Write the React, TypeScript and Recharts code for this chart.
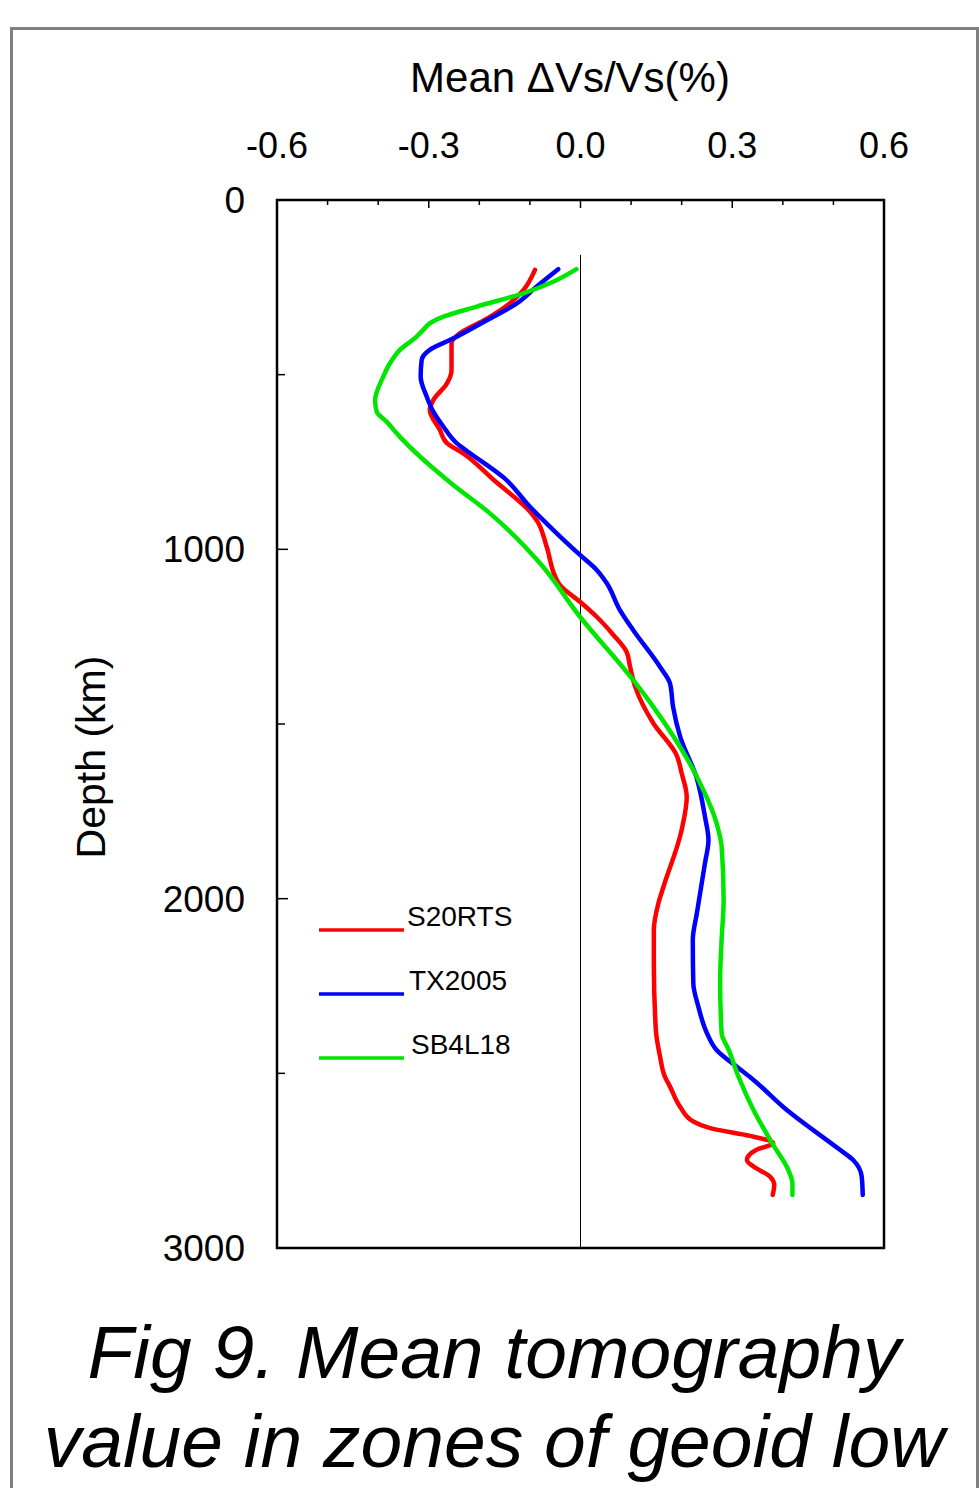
import { LineChart, Line, XAxis, YAxis, ReferenceArea, Legend } from "recharts";

const FONT = '"Liberation Sans", Arial, sans-serif';

// depth ticks (km) and dVs/Vs ticks (%)
const depthTicks = [0, 500, 1000, 1500, 2000, 2500, 3000];
const valueTicks = [-0.6, -0.5, -0.4, -0.3, -0.2, -0.1, 0, 0.1, 0.2, 0.3, 0.4, 0.5, 0.6];

// [dVs/Vs %, depth km]
const s20rts: [number, number][] = [
  [-0.09, 200], [-0.113, 258], [-0.139, 295], [-0.185, 340], [-0.238, 381],
  [-0.255, 410], [-0.255, 487], [-0.264, 525], [-0.291, 573], [-0.298, 601],
  [-0.278, 658], [-0.264, 696], [-0.232, 725], [-0.172, 801], [-0.1, 892],
  [-0.087, 916], [-0.067, 992], [-0.05, 1078], [-0.041, 1102], [-0.001, 1150],
  [0.032, 1193], [0.065, 1245], [0.091, 1293], [0.098, 1336], [0.108, 1393],
  [0.144, 1498], [0.19, 1589], [0.2, 1641], [0.21, 1708], [0.2, 1803],
  [0.164, 1966], [0.154, 2013], [0.145, 2090], [0.145, 2185], [0.149, 2376],
  [0.157, 2450], [0.167, 2510], [0.177, 2538], [0.197, 2596], [0.223, 2638],
  [0.256, 2657], [0.335, 2679], [0.381, 2700], [0.348, 2719], [0.329, 2748],
  [0.342, 2767], [0.375, 2796], [0.383, 2820], [0.38, 2848],
];

const tx2005: [number, number][] = [
  [-0.044, 198], [-0.087, 248], [-0.126, 296], [-0.185, 344], [-0.251, 396],
  [-0.298, 429], [-0.314, 458], [-0.316, 506], [-0.304, 563], [-0.291, 606],
  [-0.271, 649], [-0.245, 696], [-0.218, 725], [-0.15, 797], [-0.1, 878],
  [-0.047, 954], [-0.001, 1016], [0.032, 1059], [0.052, 1097], [0.078, 1174],
  [0.104, 1231], [0.157, 1336], [0.177, 1384], [0.183, 1451], [0.197, 1536],
  [0.23, 1656], [0.246, 1765], [0.253, 1832], [0.246, 1899], [0.23, 2042],
  [0.222, 2118], [0.223, 2242], [0.233, 2309], [0.25, 2385], [0.269, 2433],
  [0.309, 2481], [0.338, 2514], [0.408, 2605], [0.513, 2719], [0.539, 2748],
  [0.556, 2796], [0.558, 2848],
];

const sb4l18: [number, number][] = [
  [-0.008, 198], [-0.054, 234], [-0.113, 267], [-0.205, 305], [-0.271, 334],
  [-0.298, 353], [-0.311, 372], [-0.324, 391], [-0.357, 429], [-0.377, 468],
  [-0.39, 506], [-0.406, 573], [-0.403, 606], [-0.383, 635], [-0.357, 678],
  [-0.317, 735], [-0.291, 768], [-0.254, 813], [-0.179, 897], [-0.08, 1040],
  [-0.001, 1193], [0.104, 1374], [0.144, 1451], [0.23, 1651], [0.269, 1784],
  [0.279, 1851], [0.283, 2004], [0.279, 2118], [0.276, 2233], [0.279, 2385],
  [0.293, 2433], [0.313, 2512], [0.342, 2605], [0.381, 2705], [0.411, 2777],
  [0.419, 2815], [0.419, 2848],
];

const zeroLine: [number, number][] = [[0, 157], [0, 3000]];

const toRows = (pts: [number, number][]) => pts.map(([v, d]) => ({ v, d }));

const series = [
  { name: "S20RTS", color: "#ff0000", pts: s20rts },
  { name: "TX2005", color: "#0000ff", pts: tx2005 },
  { name: "SB4L18", color: "#00e600", pts: sb4l18 },
];

const XTick = (props: any) => {
  const { x, y, payload } = props;
  const k = Math.round(payload.value * 10);
  const major = k % 3 === 0;
  const edge = Math.abs(k) === 6;
  return (
    <g>
      {!edge && (
        <line x1={x} x2={x} y1={y} y2={y + (major ? 8 : 5)} stroke="#000" strokeWidth={1.5} />
      )}
      {major && (
        <text x={x} y={y - 55} dy="0.35em" textAnchor="middle" fontSize={36} fontFamily={FONT} fill="#000">
          {payload.value.toFixed(1)}
        </text>
      )}
    </g>
  );
};

const YTick = (props: any) => {
  const { x, y, payload } = props;
  const d = payload.value;
  const major = d % 1000 === 0;
  const edge = d === 0 || d === 3000;
  return (
    <g>
      {!edge && (
        <line x1={x} x2={x + (major ? 11 : 8)} y1={y} y2={y} stroke="#000" strokeWidth={1.5} />
      )}
      {major && (
        <text x={x - 32} y={y} dy="0.35em" textAnchor="end" fontSize={37} fontFamily={FONT} fill="#000">
          {d}
        </text>
      )}
    </g>
  );
};

const renderTitle = () => (
  <text x={570} y={92} textAnchor="middle" fontSize={42} fontFamily={FONT} fill="#000">
    Mean ΔVs/Vs(%)
  </text>
);

const renderDepthLabel = () => (
  <text
    x={105}
    y={757}
    transform="rotate(-90, 105, 757)"
    textAnchor="middle"
    fontSize={41}
    fontFamily={FONT}
    fill="#000"
  >
    Depth (km)
  </text>
);

// legend keeps the series order, not the alphabetical one
const renderLegend = (props: any) => {
  const payload = (props.payload || []).filter((p: any) => p.type !== "none");
  const items = series
    .map((s) => payload.find((p: any) => p.value === s.name) || { value: s.name, color: s.color })
    .filter(Boolean);
  return (
    <svg width={260} height={200}>
      {items.map((p: any, i: number) => {
        const ly = 50 + i * 64;
        return (
          <g key={p.value}>
            <line x1={19} x2={104} y1={ly} y2={ly} stroke={p.color} strokeWidth={3.5} />
            <text x={107 + i * 2} y={ly - 4} fontSize={28} fontFamily={FONT} fill="#000">
              {p.value}
            </text>
          </g>
        );
      })}
    </svg>
  );
};

export default function App() {
  return (
    <div
      style={{
        position: "absolute",
        left: 0,
        top: 0,
        width: 979,
        height: 1488,
        overflow: "hidden",
        background: "#fff",
        fontFamily: FONT,
      }}
    >
      <div
        style={{
          position: "absolute",
          left: 10,
          top: 27,
          width: 963,
          height: 1500,
          border: "3px solid #808080",
        }}
      />
      <div style={{ position: "absolute", left: 0, top: 0 }}>
        <LineChart width={979} height={1300} margin={{ top: 0, right: 95, bottom: 52, left: 0 }}>
          <XAxis
            xAxisId="v"
            type="number"
            dataKey="v"
            orientation="top"
            domain={[-0.6, 0.6]}
            ticks={valueTicks}
            interval={0}
            height={200}
            tickSize={0}
            tickMargin={0}
            axisLine={false}
            tickLine={false}
            tick={<XTick />}
            label={renderTitle}
            allowDataOverflow
          />
          <YAxis
            yAxisId="d"
            type="number"
            dataKey="d"
            reversed
            domain={[0, 3000]}
            ticks={depthTicks}
            interval={0}
            width={277}
            tickSize={0}
            tickMargin={0}
            axisLine={false}
            tickLine={false}
            tick={<YTick />}
            label={renderDepthLabel}
            allowDataOverflow
          />
          <ReferenceArea
            xAxisId="v"
            yAxisId="d"
            x1={-0.6}
            x2={0.6}
            y1={0}
            y2={3000}
            fill="none"
            fillOpacity={0}
            stroke="#000"
            strokeWidth={2.5}
          />
          <Line
            xAxisId="v"
            yAxisId="d"
            data={toRows(zeroLine)}
            dataKey="d"
            name="zero"
            stroke="#000"
            strokeWidth={1}
            dot={false}
            activeDot={false}
            legendType="none"
            isAnimationActive={false}
          />
          {series.map((s) => (
            <Line
              key={s.name}
              xAxisId="v"
              yAxisId="d"
              data={toRows(s.pts)}
              dataKey="d"
              name={s.name}
              type="monotoneY"
              stroke={s.color}
              strokeWidth={4.5}
              strokeLinecap="round"
              strokeLinejoin="round"
              dot={false}
              activeDot={false}
              isAnimationActive={false}
            />
          ))}
          <Legend
            content={renderLegend}
            layout="horizontal"
            verticalAlign="middle"
            align="center"
            wrapperStyle={{ position: "absolute", left: 300, top: 880, width: 260, height: 200 }}
          />
        </LineChart>
      </div>
      <div
        style={{
          position: "absolute",
          left: 11,
          top: 1308,
          width: 966,
          textAlign: "center",
          fontSize: 75,
          lineHeight: "89px",
          fontStyle: "italic",
          color: "#000",
          whiteSpace: "nowrap",
        }}
      >
        Fig 9. Mean tomography
        <br />
        value in zones of geoid low
      </div>
    </div>
  );
}
